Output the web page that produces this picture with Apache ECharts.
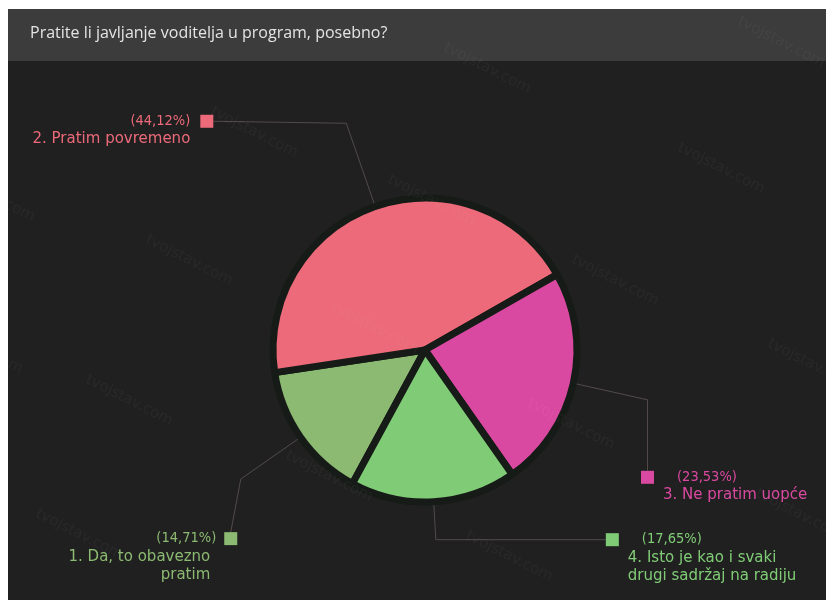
<!DOCTYPE html>
<html>
<head>
<meta charset="utf-8">
<script src="https://cdn.jsdelivr.net/npm/echarts@6/dist/echarts.min.js"></script>
<style>
  html, body { margin: 0; padding: 0; background: #ffffff; }
  #chart { width: 826px; height: 600px; }
</style>
</head>
<body>
<div id="chart"></div>
<script>
// Survey question and answers
const titleText = 'Pratite li javljanje voditelja u program, posebno?';
const categories = [
  '1. Da, to obavezno\npratim',
  '2. Pratim povremeno',
  '3. Ne pratim uopće',
  '4. Isto je kao i svaki\ndrugi sadržaj na radiju'
];
const shares = [14.71, 44.12, 23.53, 17.65];   // percent of answers
const sliceColors = ['#8cba72', '#ec6a79', '#da49a1', '#80cc76'];
const watermarkText = 'tvojstav.com';

// ---- layout ----
const CX = 425, CY = 350, R = 152;
const START_ANGLE = 241.5;
// leader line: radial length, then offset of the marker square from the elbow
const LEADER = [
  { len: 73, dx: -10, dy: 53, side: 'left',  attach: 'top',  gap: 8,  pad: 27 },
  { len: 88, dx: -133, dy: -2, side: 'left', attach: 'side', gap: 10, pad: 23 },
  { len: 76, dx: 0,  dy: 71, side: 'right', attach: 'top',  gap: 23, pad: 22 },
  { len: 38, dx: 170, dy: 0, side: 'right', attach: 'side', gap: 23, pad: 22 }
];
const SQ = 13, LH = 18;
const WATERMARKS = [
  [448, 40], [742, 14], [215, 104], [392, 172], [150, 232], [682, 140],
  [-48, 168], [576, 252], [772, 336], [90, 372], [532, 396], [290, 448],
  [40, 506], [470, 528], [-60, 320], [760, 486], [336, 300]
];

const total = shares.reduce((a, b) => a + b, 0);
function midAngle(i) {
  let before = 0;
  for (let k = 0; k < i; k++) before += shares[k];
  const a = START_ANGLE - (before + shares[i] / 2) / total * 360;
  return a * Math.PI / 180;
}

function pctText(v) {
  return '(' + v.toFixed(2).replace('.', ',') + '%)';
}

function labelFormatter(i) {
  const lines = categories[i].split('\n');
  const L = LEADER[i];
  if (L.side === 'left') {
    return ['{v|' + pctText(shares[i]) + '}{g|}{sq|}']
      .concat(lines.map(s => '{n|' + s + '}{t|}')).join('\n');
  }
  return ['{sq|}{g|}{v|' + pctText(shares[i]) + '}']
    .concat(lines.map(s => '{t|}{n|' + s + '}')).join('\n');
}

function richFor(i) {
  const L = LEADER[i];
  return {
    v: { fontFamily: "'DejaVu Sans Condensed', 'DejaVu Sans'", fontSize: 14.5, lineHeight: LH, color: sliceColors[i] },
    n: { fontFamily: "'DejaVu Sans'", fontSize: 15, lineHeight: LH, color: sliceColors[i] },
    sq: { width: SQ, height: SQ, lineHeight: LH, backgroundColor: sliceColors[i] },
    g: { width: L.gap, lineHeight: LH },
    t: { width: L.pad, lineHeight: LH }
  };
}

const pieData = categories.map((name, i) => ({
  name: name,
  value: shares[i],
  itemStyle: { color: sliceColors[i] },
  label: { formatter: labelFormatter(i), rich: richFor(i), color: sliceColors[i] }
}));

const chart = echarts.init(document.getElementById('chart'), null, { renderer: 'canvas' });

const graphics = [
  { type: 'rect', shape: { x: 0, y: 0, width: 826, height: 9 }, style: { fill: '#ffffff' }, silent: true },
  { type: 'rect', shape: { x: 0, y: 0, width: 8, height: 600 }, style: { fill: '#ffffff' }, silent: true },
  { type: 'rect', shape: { x: 8, y: 9, width: 818, height: 52 }, style: { fill: '#3c3c3c' }, silent: true }
].concat(WATERMARKS.map(p => ({
  type: 'text', x: p[0], y: p[1], rotation: -0.47, z: 100, silent: true,
  style: { text: watermarkText, fill: 'rgba(255,255,255,0.04)', font: '15px "DejaVu Sans"' }
})));

chart.setOption({
  animation: false,
  backgroundColor: '#202020',
  title: {
    text: titleText,
    left: 25, top: 20,
    textStyle: { fontFamily: "'Open Sans'", fontSize: 16, fontWeight: 'normal', color: '#e4e4e4' }
  },
  graphic: graphics,
  series: [{
    type: 'pie',
    center: [CX, CY],
    radius: [0, R],
    startAngle: START_ANGLE,
    clockwise: true,
    silent: true,
    selectedMode: false,
    emphasis: { disabled: true },
    itemStyle: { borderColor: '#161b17', borderWidth: 7 },
    label: { show: true, position: 'outside', overflow: 'none', alignTo: 'none' },
    labelLine: { show: true, length: 20, length2: 20, smooth: false,
                 lineStyle: { color: '#524a4b', width: 1 } },
    labelLayout: function (params) {
      const i = params.dataIndex;
      const L = LEADER[i];
      const a = midAngle(i);
      const ux = Math.cos(a), uy = -Math.sin(a);
      const p0 = [CX + ux * R, CY + uy * R];
      const p1 = [CX + ux * (R + L.len), CY + uy * (R + L.len)];
      const p2 = [p1[0] + L.dx, p1[1] + L.dy];
      let x;
      if (L.side === 'left') {
        x = L.attach === 'top' ? p2[0] + SQ / 2 : p2[0];
      } else {
        x = L.attach === 'top' ? p2[0] - SQ / 2 : p2[0];
      }
      const y = L.attach === 'top' ? p2[1] - (LH - SQ) / 2 : p2[1] - LH / 2;
      return {
        x: x, y: y,
        align: L.side === 'left' ? 'right' : 'left',
        verticalAlign: 'top',
        labelLinePoints: [p0, p1, p2]
      };
    },
    data: pieData
  }]
});
</script>
</body>
</html>
